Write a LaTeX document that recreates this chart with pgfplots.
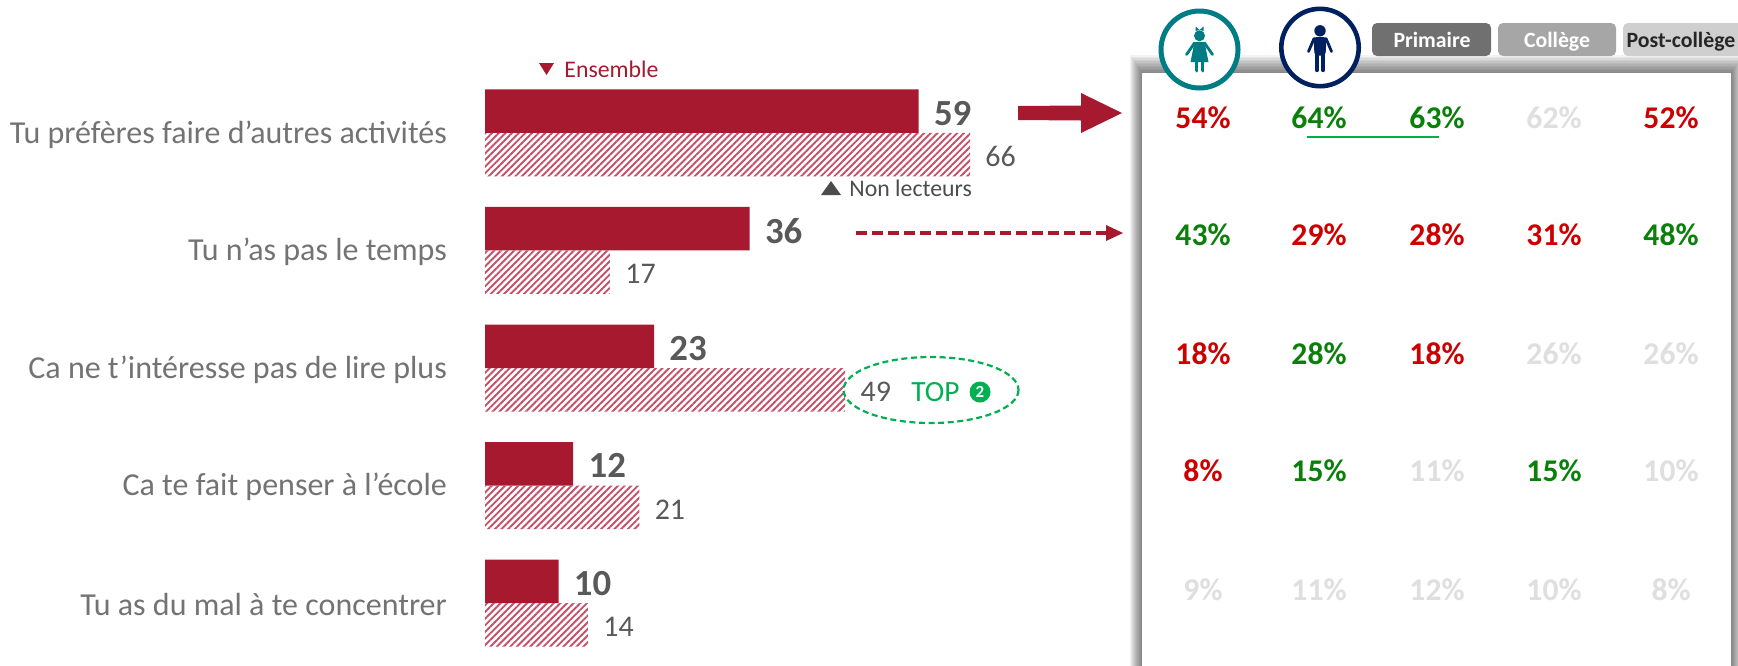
\documentclass[border=0pt]{standalone}
\usepackage{fontspec}
\setmainfont{Carlito}
\usepackage{pgfplots}
\usepackage{pgfplotstable}
\pgfplotsset{compat=1.18}
\usetikzlibrary{patterns.meta,arrows.meta}

\definecolor{crimson}{HTML}{A6192E}
\definecolor{hatch}{HTML}{C4506A}
\definecolor{valgray}{HTML}{595959}
\definecolor{labgray}{HTML}{737373}
\definecolor{pctred}{HTML}{CC0000}
\definecolor{pctgreen}{HTML}{0A800A}
\definecolor{pctgray}{HTML}{DFDFDF}
\definecolor{topgreen}{HTML}{00B050}
\definecolor{teal}{HTML}{007C85}
\definecolor{navy}{HTML}{002060}

\pgfplotstableread{
row ensemble nonlecteurs
0 59 66
1 36 17
2 23 49
3 12 21
4 10 14
}\bars

% sizes are in px of the reference, 1 px = 0.5 pt
\newcommand{\fs}[1]{\fontsize{#1}{#1}\selectfont}

\begin{document}
\begin{tikzpicture}[x=0.5pt,y=-0.5pt]
\path[use as bounding box,clip] (0,0) rectangle (1738,665);

% panel with soft shadow
\foreach \d in {12,11,10,9,8,7,6,5,4,3,2,1}
  \fill[black,opacity=0.05] (1142-\d,73-1.5*\d) rectangle (1731+\d,700);
\fill[white] (1142,73) rectangle (1731,700);

% bars
\coordinate (o) at (485,74);
\begin{axis}[
    at={(o)}, anchor=north west,
    scale only axis,
    width=257.25pt, height=294pt,
    xmin=0, xmax=70,
    ymin=-0.5, ymax=4.5,
    y dir=reverse,
    axis line style={draw=none},
    major tick style={draw=none},
    xtick=\empty,
    ytick=data,
    yticklabels={Tu préfères faire d’autres activités,Tu n’as pas le temps,Ca ne t’intéresse pas de lire plus,Ca te fait penser à l’école,Tu as du mal à te concentrer},
    y tick label style={font=\fs{16}, text=labgray, inner sep=0pt, xshift=-14.6pt, yshift=-0.8pt},
    clip=false,
    xbar,
    bar width=21.75pt,
    /pgf/number format/assume math mode=true,
    nodes near coords,
]
\addplot[fill=crimson,draw=none,bar shift=10.875pt,
    nodes near coords style={font=\fs{18.4}\bfseries,text=valgray,anchor=west,inner sep=0pt,xshift=7.5pt,yshift=-1pt}]
    table[x=ensemble,y=row] {\bars};
\addplot[pattern={Lines[angle=45,distance=2.35pt,line width=0.95pt]},pattern color=hatch,draw=none,bar shift=-10.875pt,
    nodes near coords style={font=\fs{15},text=valgray,anchor=west,inner sep=0pt,xshift=7.5pt,yshift=-1pt}]
    table[x=nonlecteurs,y=row] {\bars};
\end{axis}

% series names
\fill[crimson] (539,63) -- (554,63) -- (546.5,75) -- cycle;
\node[anchor=west,inner sep=0pt,text=crimson,font=\fs{11.9}] at (564,69) {Ensemble};
\fill[black!70] (821,195) -- (841,195) -- (831,181) -- cycle;
\node[anchor=west,inner sep=0pt,text=black!70,font=\fs{11.9}] at (849,188) {Non lecteurs};

% arrows
\fill[crimson] (1018,106) -- (1081,105.5) -- (1081,93) -- (1122,113) -- (1081,133) -- (1081,120.5) -- (1018,120) -- cycle;
\draw[crimson,line width=1.7pt,dash pattern=on 5.5pt off 2.5pt] (856,233) -- (1106,233);
\fill[crimson] (1106,225) -- (1123,233) -- (1106,241) -- cycle;

% top 2 callout
\draw[topgreen,line width=1.1pt,dash pattern=on 3pt off 1.8pt] (931,390) ellipse [x radius=87.5,y radius=33];
\node[anchor=west,inner sep=0pt,text=topgreen,font=\fs{14.7}] at (911,392) {TOP};
\node[circle,fill=topgreen,text=white,inner sep=0pt,minimum size=10.5pt,font=\fs{8.5}\bfseries] at (980,392) {2};

% column headers
\fill[black!56,rounded corners=2.5pt] (1372,23) rectangle (1491,56);
\node[anchor=base,text=white,font=\fs{10.9}\bfseries,inner sep=0pt] at (1432,47) {Primaire};
\fill[black!35,rounded corners=2.5pt] (1498,23) rectangle (1616,56);
\node[anchor=base,text=white,font=\fs{10.9}\bfseries,inner sep=0pt] at (1557,47) {Collège};
\fill[black!19,rounded corners=2.5pt] (1623,23) rectangle (1745,56);
\node[anchor=base,text=black!85,font=\fs{10.9}\bfseries,inner sep=0pt] at (1681,47) {Post-collège};

% girl
\draw[teal,line width=2.5pt,fill=white] (1199.5,49.5) circle [radius=38.5];
\begin{scope}[shift={(1199.5,49.5)}]
\fill[teal] (0,-13.7) circle [radius=5.5];
\fill[teal] (0,-19.5) -- (-4,-23) -- (-4,-18.5) -- cycle (0,-19.5) -- (4,-23) -- (4,-18.5) -- cycle;
\fill[teal] (-5,-7.5) -- (5,-7.5) -- (9,12.5) -- (-9,12.5) -- cycle;
\draw[teal,line width=1.4pt,line cap=round] (-5,-6.5) -- (-13,5) (5,-6.5) -- (13,5);
\draw[teal,line width=1.9pt,line cap=round] (-3,12) -- (-3,21) (3,12) -- (3,21);
\end{scope}

% boy
\draw[navy,line width=2.3pt,fill=white] (1320,47.5) circle [radius=38.7];
\begin{scope}[shift={(1320,47.5)}]
\fill[navy] (0,-16.7) circle [radius=5.7];
\fill[navy,rounded corners=1.5pt] (-6.5,-10.5) -- (6.5,-10.5) -- (5.5,8) -- (-5.5,8) -- cycle;
\draw[navy,line width=1.4pt,line cap=round] (-6,-9) -- (-11.5,4) (6,-9) -- (11.5,4);
\draw[navy,line width=2.2pt,line cap=round] (-3,6) -- (-3,22.5) (3,6) -- (3,22.5);
\end{scope}

% percentages
\newcommand{\pct}[4]{\node[text=#1,font=\fs{15.8}\bfseries,inner sep=0pt] at (#2,#3) {#4\%};}
\pct{pctred}{1203}{118}{54}
\pct{pctgreen}{1319}{118}{64}
\pct{pctgreen}{1437}{118}{63}
\pct{pctgray}{1554}{118}{62}
\pct{pctred}{1671}{118}{52}
\pct{pctgreen}{1203}{235}{43}
\pct{pctred}{1319}{235}{29}
\pct{pctred}{1437}{235}{28}
\pct{pctred}{1554}{235}{31}
\pct{pctgreen}{1671}{235}{48}
\pct{pctred}{1203}{354}{18}
\pct{pctgreen}{1319}{354}{28}
\pct{pctred}{1437}{354}{18}
\pct{pctgray}{1554}{354}{26}
\pct{pctgray}{1671}{354}{26}
\pct{pctred}{1203}{471}{8}
\pct{pctgreen}{1319}{471}{15}
\pct{pctgray}{1437}{471}{11}
\pct{pctgreen}{1554}{471}{15}
\pct{pctgray}{1671}{471}{10}
\pct{pctgray}{1203}{590}{9}
\pct{pctgray}{1319}{590}{11}
\pct{pctgray}{1437}{590}{12}
\pct{pctgray}{1554}{590}{10}
\pct{pctgray}{1671}{590}{8}
\draw[topgreen,line width=1.2pt] (1307,137) -- (1439,137);
\end{tikzpicture}
\end{document}
